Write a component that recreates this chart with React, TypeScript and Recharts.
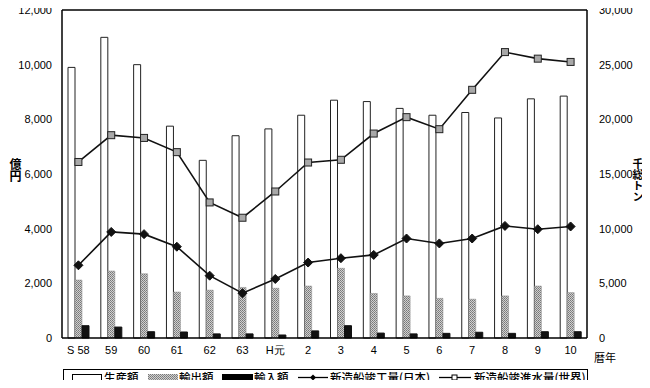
import React from "react";
import {
  ComposedChart,
  Bar,
  Line,
  XAxis,
  YAxis,
  ReferenceLine,
} from "recharts";

const years = ["S 58", "59", "60", "61", "62", "63", "H元", "2", "3", "4", "5", "6", "7", "8", "9", "10"];
const production = [9900, 11000, 10000, 7750, 6500, 7400, 7650, 8150, 8700, 8650, 8400, 8150, 8250, 8050, 8750, 8850];
const exportsVal = [2120, 2450, 2350, 1680, 1750, 1850, 1820, 1900, 2550, 1630, 1540, 1450, 1420, 1540, 1900, 1660];
const importsVal = [450, 400, 230, 220, 150, 150, 110, 260, 450, 180, 150, 170, 210, 170, 230, 230];
const japanShips = [6650, 9700, 9500, 8350, 5700, 4100, 5400, 6900, 7300, 7600, 9100, 8650, 9100, 10250, 9950, 10200];
const worldShips = [16100, 18550, 18300, 17000, 12400, 11000, 13400, 16050, 16300, 18700, 20200, 19100, 22700, 26150, 25550, 25250];

const leftTicks = [0, 2000, 4000, 6000, 8000, 10000, 12000];
const rightTicks = [0, 5000, 10000, 15000, 20000, 25000, 30000];

const leftUnit = "億円";
const rightUnit = "千総トン";

const data = years.map((y, i) => ({
  year: y,
  production: production[i],
  exp: exportsVal[i],
  imp: importsVal[i],
  japan: japanShips[i],
  world: worldShips[i],
}));

const fmt = (v: number) => v.toLocaleString("en-US");

const Diamond = (props: any) => {
  const { cx, cy, index } = props;
  if (cx == null || cy == null) return <g key={"d" + index} />;
  const r = 4.5;
  return (
    <polygon
      key={"d" + index}
      points={`${cx},${cy - r} ${cx + r},${cy} ${cx},${cy + r} ${cx - r},${cy}`}
      fill="#111"
      stroke="#111"
    />
  );
};

const Square = (props: any) => {
  const { cx, cy, index } = props;
  if (cx == null || cy == null) return <g key={"s" + index} />;
  const s = 3.5;
  return (
    <rect
      key={"s" + index}
      x={cx - s}
      y={cy - s}
      width={s * 2}
      height={s * 2}
      fill="#a8a8a8"
      stroke="#222"
      strokeWidth={1}
    />
  );
};

const jpFont = "'Noto Sans CJK JP', sans-serif";
const numFont = "'Liberation Sans', Arial, sans-serif";

const legendText: React.CSSProperties = { position: "absolute", top: 0, whiteSpace: "nowrap" };
const vertical: React.CSSProperties = {
  position: "absolute",
  writingMode: "vertical-rl",
  textOrientation: "upright",
  fontFamily: jpFont,
  fontWeight: 700,
  lineHeight: 1,
  whiteSpace: "nowrap",
};

export default function App() {
  return (
    <div style={{ position: "relative", width: 650, height: 388, margin: -8, background: "#fff", overflow: "hidden" }}>
      <ComposedChart
        width={650}
        height={388}
        data={data}
        margin={{ top: 10, right: 0, bottom: 28, left: 0 }}
        barGap={0}
        barCategoryGap={6}
      >
        <defs>
          <pattern id="hatch" width="2" height="2" patternUnits="userSpaceOnUse">
            <rect width="2" height="2" fill="#d0d0d0" />
            <rect width="1" height="1" fill="#777" />
            <rect x="1" y="1" width="1" height="1" fill="#888" />
          </pattern>
        </defs>
        <XAxis
          dataKey="year"
          axisLine={{ stroke: "#000", strokeWidth: 1.5 }}
          tickLine={false}
          tick={{ fill: "#000", fontSize: 11, fontFamily: numFont }}
          height={22}
          interval={0}
        />
        <YAxis
          yAxisId="left"
          domain={[0, 12000]}
          ticks={leftTicks}
          tickFormatter={fmt}
          width={62}
          axisLine={{ stroke: "#000", strokeWidth: 1.5 }}
          tickLine={false}
          tick={{ fill: "#000", fontSize: 11, fontFamily: numFont }}
          tickMargin={4}
        />
        <YAxis
          yAxisId="right"
          orientation="right"
          domain={[0, 30000]}
          ticks={rightTicks}
          tickFormatter={fmt}
          width={63}
          axisLine={{ stroke: "#000", strokeWidth: 1.5 }}
          tickLine={false}
          tick={{ fill: "#000", fontSize: 11, fontFamily: numFont, textAnchor: "start" }}
          tickMargin={6}
        />
        <ReferenceLine yAxisId="left" y={12000} stroke="#000" strokeWidth={1.5} />
        <Bar yAxisId="left" dataKey="production" fill="#fff" stroke="#222" strokeWidth={1} barSize={7} isAnimationActive={false} />
        <Bar yAxisId="left" dataKey="exp" fill="url(#hatch)" stroke="#888" strokeWidth={0.5} barSize={7} isAnimationActive={false} />
        <Bar yAxisId="left" dataKey="imp" fill="#111" stroke="#111" barSize={7} isAnimationActive={false} />
        <Line yAxisId="right" dataKey="japan" stroke="#111" strokeWidth={1.6} dot={Diamond} isAnimationActive={false} />
        <Line yAxisId="right" dataKey="world" stroke="#111" strokeWidth={1.6} dot={Square} isAnimationActive={false} />
      </ComposedChart>

      <div style={{ ...vertical, left: 9, top: 158, fontSize: 12 }}>{leftUnit}</div>
      <div style={{ ...vertical, left: 632, top: 158, fontSize: 11 }}>{rightUnit}</div>
      <div style={{ position: "absolute", left: 594, top: 352, fontFamily: jpFont, fontSize: 11, lineHeight: 1, whiteSpace: "nowrap" }}>
        暦年
      </div>

      <div
        style={{
          position: "absolute",
          left: 63,
          top: 369,
          width: 525,
          height: 17,
          border: "1px solid #000",
          boxSizing: "border-box",
          fontFamily: jpFont,
          fontSize: 11.5,
          fontWeight: 500,
          lineHeight: "15px",
        }}
      >
        <div style={{ position: "absolute", left: 8, top: 4, width: 30, height: 7, border: "1px solid #000", background: "#fff", boxSizing: "border-box" }} />
        <div style={{ ...legendText, left: 40 }}>生産額</div>
        <svg style={{ position: "absolute", left: 84, top: 4 }} width={30} height={7}>
          <defs>
            <pattern id="hatch2" width="2" height="2" patternUnits="userSpaceOnUse">
              <rect width="2" height="2" fill="#d0d0d0" />
              <rect width="1" height="1" fill="#777" />
              <rect x="1" y="1" width="1" height="1" fill="#888" />
            </pattern>
          </defs>
          <rect x={0} y={0} width={30} height={7} fill="url(#hatch2)" />
        </svg>
        <div style={{ ...legendText, left: 115 }}>輸出額</div>
        <div style={{ position: "absolute", left: 158, top: 4, width: 31, height: 7, background: "#000" }} />
        <div style={{ ...legendText, left: 190 }}>輸入額</div>
        <svg style={{ position: "absolute", left: 234, top: 2 }} width={30} height={11}>
          <line x1={0} y1={5.5} x2={30} y2={5.5} stroke="#000" strokeWidth={1.3} />
          <polygon points="15,2.5 18,5.5 15,8.5 12,5.5" fill="#000" />
        </svg>
        <div style={{ ...legendText, left: 266 }}>新造船竣工量(日本)</div>
        <svg style={{ position: "absolute", left: 375, top: 2 }} width={32} height={11}>
          <line x1={0} y1={5.5} x2={32} y2={5.5} stroke="#000" strokeWidth={1.3} />
          <rect x={13} y={3} width={5} height={5} fill="#fff" stroke="#000" strokeWidth={1} />
        </svg>
        <div style={{ ...legendText, left: 410 }}>新造船竣進水量(世界)</div>
      </div>
    </div>
  );
}
